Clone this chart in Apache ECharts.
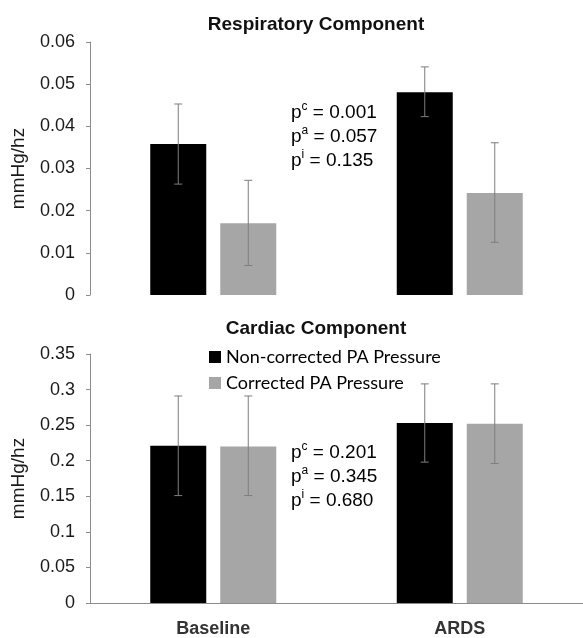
<!DOCTYPE html>
<html><head><meta charset="utf-8">
<script src="https://cdn.jsdelivr.net/npm/echarts@6/dist/echarts.min.js"></script>
<style>html,body{margin:0;padding:0;background:#fff}#c{width:583px;height:638px}</style>
</head><body><div id="c"></div>
<script>
var categories = ['Baseline', 'ARDS'];
var seriesNames = ['Non-corrected PA Pressure', 'Corrected PA Pressure'];

var respNonCorr = [0.0358, 0.0481];
var respNonCorrLow = [0.0263, 0.0423];
var respNonCorrHigh = [0.0453, 0.0541];
var respCorr = [0.0170, 0.0242];
var respCorrLow = [0.0070, 0.0125];
var respCorrHigh = [0.0272, 0.0361];

var cardNonCorr = [0.221, 0.253];
var cardNonCorrLow = [0.151, 0.198];
var cardNonCorrHigh = [0.291, 0.308];
var cardCorr = [0.220, 0.252];
var cardCorrLow = [0.151, 0.196];
var cardCorrHigh = [0.291, 0.308];

var respTicks = {min: 0, max: 0.06, interval: 0.01};
var cardTicks = {min: 0, max: 0.35, interval: 0.05};

var respP = ['0.001', '0.057', '0.135'];
var cardP = ['0.201', '0.345', '0.680'];
var pSup = ['c', 'a', 'i'];

var BAR_W = 56, GAP = 14;
var OFFSET = (BAR_W + GAP) / 2;
var COLORS = ['#000000', '#a6a6a6'];
var ARIAL = '"Liberation Sans", Arial, sans-serif';

function errSeries(grid, low, high, side) {
  var data = categories.map(function (c, i) { return [i, low[i], high[i]]; });
  return {
    type: 'custom', xAxisIndex: grid, yAxisIndex: grid, z: 10, silent: true,
    data: data,
    encode: {x: 0, y: [1, 2]},
    renderItem: function (params, api) {
      var lo = api.coord([api.value(0), api.value(1)]);
      var hi = api.coord([api.value(0), api.value(2)]);
      var x = lo[0] + side * OFFSET;
      var cap = 4;
      var st = {stroke: '#7d7d7d', lineWidth: 1};
      return {type: 'group', children: [
        {type: 'line', shape: {x1: x, y1: lo[1], x2: x, y2: hi[1]}, style: st},
        {type: 'line', shape: {x1: x - cap, y1: hi[1], x2: x + cap, y2: hi[1]}, style: st},
        {type: 'line', shape: {x1: x - cap, y1: lo[1], x2: x + cap, y2: lo[1]}, style: st}
      ]};
    }
  };
}

function pText(vals) {
  return vals.map(function (v, i) { return '{p|p}{s|' + pSup[i] + '}{p| = ' + v + '}'; }).join('\n');
}
var pRich = {
  p: {fontFamily: ARIAL, fontSize: 19, color: '#111', lineHeight: 24},
  s: {fontFamily: ARIAL, fontSize: 12, color: '#111', lineHeight: 24, verticalAlign: 'top', padding: [0, 0, 10, 0]}
};

var yLabel = {fontFamily: ARIAL, fontSize: 18, color: '#1a1a1a', margin: 15};
var yName = {fontFamily: ARIAL, fontSize: 19, color: '#1a1a1a'};

function yAxisDef(grid, t) {
  return {
    type: 'value', gridIndex: grid, min: t.min, max: t.max, interval: t.interval,
    name: 'mmHg/hz', nameLocation: 'middle', nameGap: 62, nameTextStyle: yName,
    axisLine: {show: true, lineStyle: {color: '#8c8c8c'}},
    axisTick: {show: true, length: 4, lineStyle: {color: '#8c8c8c'}},
    splitLine: {show: false},
    axisLabel: yLabel
  };
}

var option = {
  animation: false,
  backgroundColor: '#ffffff',
  title: [
    {text: 'Respiratory Component', left: 311, textAlign: 'center', top: 10,
      textStyle: {fontFamily: ARIAL, fontSize: 19, fontWeight: 'bold', color: '#111'}},
    {text: 'Cardiac Component', left: 311, textAlign: 'center', top: 314,
      textStyle: {fontFamily: ARIAL, fontSize: 19, fontWeight: 'bold', color: '#111'}}
  ],
  legend: {
    data: seriesNames, orient: 'vertical', left: 204, top: 343,
    itemWidth: 12, itemHeight: 12, itemGap: 8,
    icon: 'rect', selectedMode: false,
    textStyle: {fontFamily: 'Lato, "Open Sans"', fontSize: 18, color: '#000', padding: [0, 0, 0, 0]}
  },
  grid: [
    {left: 90, right: 0, top: 42, height: 253},
    {left: 90, right: 0, top: 354, height: 251}
  ],
  xAxis: [
    {type: 'category', gridIndex: 0, data: categories,
      axisLine: {show: false}, axisTick: {show: false}, axisLabel: {show: false}},
    {type: 'category', gridIndex: 1, data: categories,
      axisLine: {show: true, lineStyle: {color: '#8c8c8c'}}, axisTick: {show: false},
      axisLabel: {fontFamily: ARIAL, fontSize: 18, fontWeight: 'bold', color: '#333', margin: 17}}
  ],
  yAxis: [yAxisDef(0, respTicks), yAxisDef(1, cardTicks)],
  graphic: [
    {type: 'text', left: 291, top: 101, style: {text: pText(respP), rich: pRich}},
    {type: 'text', left: 291, top: 441, style: {text: pText(cardP), rich: pRich}}
  ],
  series: [
    {name: seriesNames[0], type: 'bar', xAxisIndex: 0, yAxisIndex: 0, data: respNonCorr,
      barWidth: BAR_W, barGap: (GAP / BAR_W * 100) + '%', itemStyle: {color: COLORS[0]}},
    {name: seriesNames[1], type: 'bar', xAxisIndex: 0, yAxisIndex: 0, data: respCorr,
      barWidth: BAR_W, barGap: (GAP / BAR_W * 100) + '%', itemStyle: {color: COLORS[1]}},
    {name: seriesNames[0], type: 'bar', xAxisIndex: 1, yAxisIndex: 1, data: cardNonCorr,
      barWidth: BAR_W, barGap: (GAP / BAR_W * 100) + '%', itemStyle: {color: COLORS[0]}},
    {name: seriesNames[1], type: 'bar', xAxisIndex: 1, yAxisIndex: 1, data: cardCorr,
      barWidth: BAR_W, barGap: (GAP / BAR_W * 100) + '%', itemStyle: {color: COLORS[1]}},
    errSeries(0, respNonCorrLow, respNonCorrHigh, -1),
    errSeries(0, respCorrLow, respCorrHigh, 1),
    errSeries(1, cardNonCorrLow, cardNonCorrHigh, -1),
    errSeries(1, cardCorrLow, cardCorrHigh, 1)
  ]
};

var chart = echarts.init(document.getElementById('c'), null, {renderer: 'canvas'});
chart.setOption(option);
</script>
</body></html>
